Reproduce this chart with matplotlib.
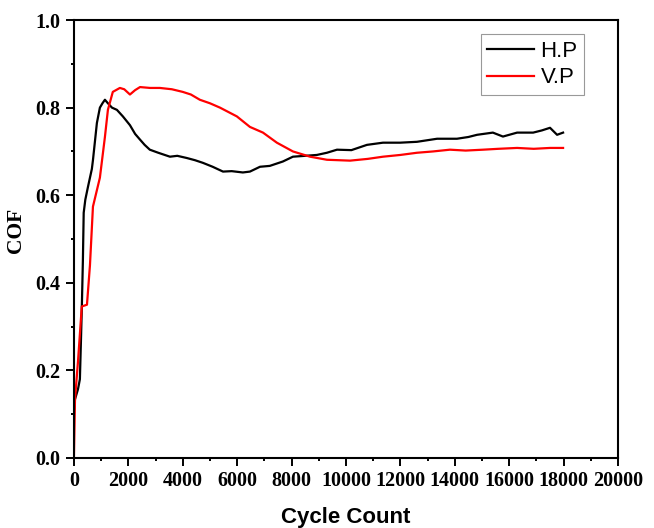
import numpy as np
import matplotlib
matplotlib.use("Agg")
import matplotlib.pyplot as plt
from matplotlib.ticker import MultipleLocator

# H.P curve
hp_cycles = [0, 40, 150, 220, 260, 290, 330, 360, 420, 520, 660, 700, 845, 955,
             1050, 1140, 1250, 1400, 1580, 1800, 2060, 2250, 2430, 2600, 2790,
             3100, 3530, 3800, 4150, 4450, 4740, 5100, 5480, 5800, 6210, 6470,
             6840, 7200, 7680, 8050, 8500, 8930, 9300, 9670, 10200, 10770,
             11360, 11990, 12610, 13350, 14080, 14500, 14820, 15400, 15770,
             16290, 16880, 17200, 17500, 17760, 17980]
hp_cof = [0.10, 0.134, 0.157, 0.18, 0.27, 0.34, 0.45, 0.56, 0.59, 0.62, 0.66,
          0.68, 0.765, 0.80, 0.81, 0.818, 0.81, 0.80, 0.795, 0.78, 0.76, 0.74,
          0.727, 0.715, 0.704, 0.697, 0.688, 0.690, 0.685, 0.680, 0.674, 0.665,
          0.654, 0.655, 0.652, 0.654, 0.665, 0.667, 0.677, 0.688, 0.690, 0.692,
          0.697, 0.704, 0.703, 0.715, 0.720, 0.720, 0.722, 0.729, 0.729, 0.733,
          0.738, 0.743, 0.734, 0.743, 0.743, 0.748, 0.754, 0.738, 0.743]

# V.P curve
vp_cycles = [0, 40, 150, 290, 480, 590, 700, 955, 1140, 1250, 1430, 1690, 1850,
             2060, 2250, 2430, 2800, 3160, 3600, 4000, 4300, 4630, 5000, 5370,
             5990, 6470, 6950, 7460, 8050, 8680, 9300, 10150, 10800, 11360,
             12000, 12610, 13200, 13820, 14400, 15040, 15600, 16290, 16900,
             17500, 17980]
vp_cof = [0.0, 0.134, 0.22, 0.346, 0.35, 0.44, 0.574, 0.64, 0.733, 0.795,
          0.836, 0.845, 0.842, 0.83, 0.840, 0.847, 0.845, 0.845, 0.842, 0.836,
          0.83, 0.818, 0.81, 0.80, 0.78, 0.756, 0.743, 0.72, 0.70, 0.688,
          0.681, 0.679, 0.683, 0.688, 0.692, 0.697, 0.700, 0.704, 0.702, 0.704,
          0.706, 0.708, 0.706, 0.708, 0.708]

serif = "Liberation Serif"
sans = "Liberation Sans"

fig = plt.figure(figsize=(6.54, 5.28), dpi=100)
ax = fig.add_axes([0.113, 0.1326, 0.832, 0.8294])

ax.plot(hp_cycles, hp_cof, color="black", lw=1.6, label="H.P")
ax.plot(vp_cycles, vp_cof, color="red", lw=1.6, label="V.P")

ax.set_xlim(0, 20000)
ax.set_ylim(0, 1.0)
ax.xaxis.set_major_locator(MultipleLocator(2000))
ax.xaxis.set_minor_locator(MultipleLocator(1000))
ax.yaxis.set_major_locator(MultipleLocator(0.2))
ax.yaxis.set_minor_locator(MultipleLocator(0.1))
ax.yaxis.set_major_formatter(matplotlib.ticker.FormatStrFormatter("%.1f"))

for s in ax.spines.values():
    s.set_linewidth(1.5)
ax.tick_params(which="major", direction="out", length=5.5, width=1.4)
ax.tick_params(which="minor", direction="out", length=2.5, width=1.4)
ax.tick_params(axis="x", which="major", pad=4)
ax.tick_params(axis="y", which="major", pad=4)

for lab in ax.get_xticklabels() + ax.get_yticklabels():
    lab.set_fontfamily(serif)
    lab.set_fontweight("bold")
    lab.set_fontsize(14.5)

ax.set_xlabel("Cycle Count", fontfamily=sans, fontweight="bold", fontsize=16)
ax.set_ylabel("COF", fontfamily=serif, fontweight="bold", fontsize=15.5)
ax.xaxis.set_label_coords(0.5, -0.113)
ax.yaxis.set_label_coords(-0.088, 0.52)

leg = ax.legend(loc="upper right", bbox_to_anchor=(0.938, 0.968), prop={"family": sans, "size": 16},
                fancybox=False, framealpha=1, edgecolor="#999999", handlelength=2.1,
                handletextpad=0.3, borderpad=0.3, labelspacing=0.25, borderaxespad=0)
leg.get_frame().set_linewidth(0.8)

fig.savefig("out.png", dpi=100)
